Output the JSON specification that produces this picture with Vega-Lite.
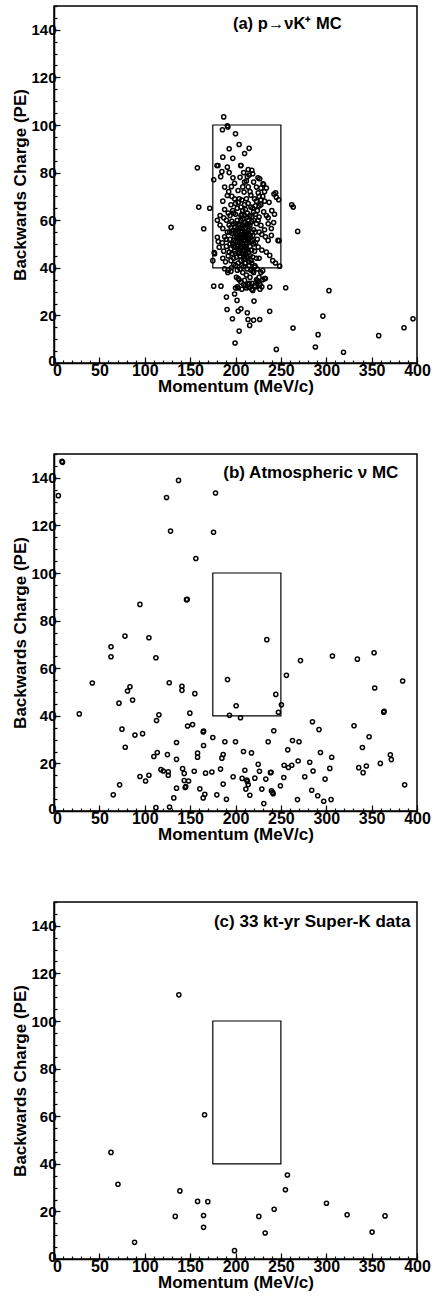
{
  "$schema": "https://vega.github.io/schema/vega-lite/v6.json",
  "padding": {"left": 11, "top": 4, "right": 0, "bottom": 0},
  "background": "white",
  "spacing": 57,
  "config": {
    "view": {"stroke": "black", "strokeWidth": 1.5},
    "font": "Liberation Sans",
    "axis": {
      "grid": false,
      "domainColor": "black",
      "domainWidth": 1.5,
      "tickColor": "black",
      "tickWidth": 1.2,
      "labelColor": "black",
      "labelFont": "Liberation Sans",
      "labelFontWeight": "bold",
      "titleFont": "Liberation Sans",
      "titleFontWeight": "bold",
      "titleColor": "black",
      "titleFontSize": 17
    }
  },
  "datasets": {
    "a": [
      {"p":129,"q":57},{"p":158,"q":82},{"p":159.5,"q":65.5},{"p":165,"q":56.4},{"p":171.6,"q":65},{"p":176,"q":77},{"p":187,"q":103.4},{"p":191,"q":99.7},{"p":191.6,"q":99.2},{"p":185.6,"q":98},{"p":200,"q":96.3},{"p":204,"q":91.8},{"p":215,"q":90.2},{"p":197,"q":86},{"p":206,"q":83},{"p":179.6,"q":83},{"p":214,"q":81.3},{"p":226.7,"q":77.4},{"p":231,"q":75},{"p":244.3,"q":71.5},{"p":247.6,"q":68.6},{"p":262,"q":66.5},{"p":263.6,"q":65.5},{"p":268.5,"q":55.3},{"p":248,"q":51.4},{"p":248.7,"q":40.7},{"p":244,"q":42},{"p":185.5,"q":50.5},{"p":175,"q":43},{"p":177,"q":45.9},{"p":176.5,"q":46.4},
      {"p":176,"q":32.3},{"p":184,"q":32.3},{"p":190,"q":27.7},{"p":190.7,"q":22.5},{"p":199,"q":29},{"p":200,"q":31.5},{"p":202,"q":32},{"p":201.7,"q":26.3},{"p":220.4,"q":26},{"p":237.7,"q":31.9},{"p":255.3,"q":31.6},{"p":203,"q":21.8},{"p":206,"q":22.8},{"p":213,"q":21.1},{"p":237.7,"q":21.7},{"p":196.6,"q":18.6},{"p":213.8,"q":18.3},{"p":220,"q":18},{"p":226.7,"q":18.3},{"p":215.6,"q":15.8},{"p":204,"q":13.4},{"p":263.4,"q":14.7},{"p":199.5,"q":8.4},{"p":245,"q":5.7},{"p":291,"q":11.9},{"p":288,"q":6.7},{"p":296.3,"q":19.7},{"p":303,"q":30.4},{"p":319,"q":4.5},{"p":357.8,"q":11.5},{"p":385.7,"q":14.8},{"p":395.6,"q":18.6},{"p":229,"q":32},{"p":192,"q":39},{"p":195.5,"q":40},
      {"p":203,"q":35.5},{"p":206,"q":34},{"p":209,"q":33},{"p":212,"q":31.5},{"p":215,"q":33.5},{"p":218,"q":31},{"p":221,"q":32.5},{"p":224,"q":34.5},{"p":227,"q":33},{"p":230,"q":35},{"p":228,"q":38},{"p":230,"q":38.8},{"p":233,"q":35.5},
      {"p":193,"q":90},{"p":210,"q":88},{"p":186,"q":86.5},
      {"p":180.7,"q":83},{"p":191,"q":82.3},{"p":205.7,"q":83},{"p":185,"q":80.4},{"p":183.7,"q":78.3},{"p":197.2,"q":77.8},{"p":213,"q":78.3},{"p":224.8,"q":77.8},{"p":193,"q":80},{"p":218,"q":81},
      {"p":210,"q":76},{"p":223,"q":73.9},{"p":230.3,"q":75.3},{"p":214,"q":74},{"p":216,"q":72},{"p":217,"q":70.5},{"p":195.5,"q":74.1},{"p":188,"q":73.9},{"p":192.5,"q":72},{"p":202.8,"q":72.5},{"p":209.4,"q":71.8},{"p":199,"q":75.5},{"p":220,"q":76},
      {"p":191,"q":70.4},{"p":199,"q":69},{"p":203,"q":67.5},{"p":207,"q":68.5},{"p":221,"q":69},{"p":226,"q":70},{"p":232,"q":68},{"p":242.4,"q":71},{"p":245,"q":69.6},{"p":195,"q":66.5},{"p":210,"q":66.5},{"p":212,"q":69},{"p":186,"q":68},{"p":228,"q":66.5},{"p":237,"q":67.5},{"p":214,"q":67},
      {"p":188,"q":64.5},{"p":192,"q":63},{"p":197,"q":64},{"p":217,"q":65.5},{"p":220,"q":63.5},{"p":222,"q":66},{"p":231,"q":63.5},{"p":234,"q":62},{"p":236,"q":61},{"p":194,"q":62},{"p":200,"q":62.5},{"p":206,"q":62},{"p":226,"q":61.3},{"p":202,"q":65},{"p":208,"q":64},{"p":213,"q":63},{"p":183,"q":62},{"p":240,"q":64},{"p":243,"q":62.5},
      {"p":180,"q":60},{"p":183,"q":58},{"p":186,"q":56.5},{"p":190,"q":60},{"p":193,"q":58},{"p":196,"q":59.5},{"p":199,"q":57},{"p":202,"q":60},{"p":204,"q":58},{"p":207,"q":56.5},{"p":210,"q":59},{"p":212,"q":61},{"p":215,"q":57.5},{"p":218,"q":59.5},{"p":220,"q":56},{"p":228,"q":57.8},{"p":232,"q":56},{"p":236,"q":58.5},{"p":239.5,"q":56.5},{"p":200,"q":55.5},{"p":208,"q":60.5},{"p":223,"q":58.5},{"p":225,"q":60},{"p":187,"q":61},{"p":242,"q":59},
      {"p":180,"q":52.8},{"p":181,"q":51},{"p":188,"q":53},{"p":191,"q":55},{"p":194,"q":52},{"p":196,"q":54.5},{"p":198,"q":51.5},{"p":201,"q":53.5},{"p":203,"q":55.5},{"p":205,"q":52},{"p":207,"q":54},{"p":209,"q":51.5},{"p":211,"q":55},{"p":213,"q":52.5},{"p":215,"q":54},{"p":217,"q":51},{"p":219,"q":53.5},{"p":222,"q":55},{"p":224,"q":52},{"p":229,"q":54},{"p":236,"q":51.5},{"p":239.5,"q":53.6},{"p":246.8,"q":51.5},{"p":204,"q":50.8},{"p":210,"q":53},{"p":212,"q":50.5},{"p":226,"q":55},{"p":233,"q":53},
      {"p":182,"q":48.6},{"p":187,"q":47},{"p":190,"q":49},{"p":193,"q":46.5},{"p":195,"q":48},{"p":197,"q":50},{"p":199,"q":47},{"p":202,"q":49},{"p":204,"q":46.5},{"p":206,"q":48.5},{"p":208,"q":50},{"p":210,"q":47},{"p":212,"q":48.5},{"p":214,"q":46.5},{"p":216,"q":49},{"p":218,"q":47.5},{"p":220,"q":50},{"p":225,"q":48.7},{"p":229,"q":47.5},{"p":234,"q":46.6},{"p":200,"q":46},{"p":211,"q":45.8},{"p":207,"q":46},{"p":215,"q":50.5},
      {"p":186,"q":44},{"p":189,"q":42.5},{"p":192,"q":45},{"p":195,"q":43},{"p":198,"q":41.5},{"p":201,"q":44.5},{"p":203,"q":42},{"p":205,"q":45},{"p":207,"q":41},{"p":209,"q":43.5},{"p":211,"q":42},{"p":213,"q":44.5},{"p":215,"q":41},{"p":217,"q":43},{"p":221,"q":40.3},{"p":221.5,"q":40.8},{"p":223,"q":44},{"p":226,"q":44},{"p":237.7,"q":45.2},{"p":241,"q":43},{"p":209,"q":40.5},
      {"p":188,"q":39.6},{"p":191.5,"q":38},{"p":195,"q":38.5},{"p":201,"q":36},{"p":204,"q":35},{"p":210,"q":34.7},{"p":214,"q":33},{"p":218,"q":33.5},{"p":222,"q":32},{"p":225,"q":34},{"p":226,"q":36},{"p":208,"q":38},{"p":212,"q":37},{"p":216,"q":36},{"p":219,"q":38.5},{"p":223,"q":35},{"p":232,"q":35.5},
      {"p":203,"q":31.5},{"p":207,"q":31},{"p":211,"q":32.5},{"p":215,"q":31.8},{"p":219,"q":30.5},{"p":227,"q":31},
      {"p":198,"q":44},{"p":200,"q":48.5},{"p":202,"q":51},{"p":204,"q":53},{"p":206,"q":55},{"p":208,"q":57},{"p":210,"q":49},{"p":212,"q":53.5},{"p":214,"q":55.5},{"p":216,"q":58},{"p":218,"q":61.5},{"p":220,"q":60},{"p":222,"q":62.5},{"p":224,"q":64},{"p":226,"q":66},{"p":228,"q":68.5},{"p":230,"q":70},{"p":232,"q":72},{"p":234,"q":73.5},{"p":206,"q":60},{"p":203,"q":58.5},{"p":201,"q":56},{"p":199,"q":53},{"p":197,"q":55.5},{"p":195,"q":57},{"p":205,"q":47.5},{"p":209,"q":45},{"p":213,"q":47.5},{"p":211,"q":51.5},{"p":207,"q":52.5},{"p":203,"q":49.5},{"p":200,"q":51},{"p":198,"q":49},{"p":196,"q":46},{"p":194,"q":50},{"p":216,"q":45},{"p":219,"q":44.5},{"p":221,"q":47},{"p":222,"q":50.5},{"p":218,"q":55},{"p":214,"q":60},{"p":212,"q":58},{"p":210,"q":62},{"p":206,"q":65.5},{"p":204,"q":69},{"p":200,"q":67},{"p":198,"q":63},{"p":196,"q":70},{"p":208,"q":74},{"p":212,"q":76.5},{"p":215,"q":79},{"p":219,"q":79.5},{"p":205,"q":78},{"p":209,"q":80},{"p":202,"q":39},{"p":205,"q":39.5},{"p":213,"q":39.5},{"p":217,"q":39},{"p":220,"q":38},{"p":224,"q":39.5},
      {"p":205.5,"q":50},{"p":207.5,"q":49},{"p":209.5,"q":47.5},{"p":211.5,"q":48},{"p":206.5,"q":51.5},{"p":208.5,"q":53},{"p":210.5,"q":54},{"p":212.5,"q":55},{"p":214.5,"q":52},{"p":216.5,"q":53},{"p":218.5,"q":51.5},{"p":205,"q":56.5},{"p":209,"q":58},{"p":211,"q":57},{"p":213.5,"q":58.5},{"p":203.5,"q":46},{"p":202.5,"q":53},{"p":200.5,"q":58.5},{"p":207,"q":62.5},{"p":211,"q":64.5},{"p":216,"q":62},{"p":219,"q":65},{"p":223,"q":68},{"p":225,"q":71.5},{"p":228,"q":73.5},{"p":214.5,"q":42.5},{"p":210.5,"q":44},{"p":206,"q":43},{"p":218,"q":42},{"p":197.5,"q":58.5},{"p":193.5,"q":55},{"p":190,"q":52},{"p":200,"q":41}
    ],
    "b": [
      {"p":4.8,"q":132.5},{"p":8.8,"q":146.9},{"p":9.4,"q":146.5},{"p":27.9,"q":40.8},{"p":42.2,"q":53.8},{"p":62.8,"q":69},{"p":62.8,"q":64.8},{"p":65.3,"q":6.8},{"p":71.6,"q":45.3},{"p":72.3,"q":11},{"p":74.9,"q":34.4},{"p":78.2,"q":73.5},{"p":78.5,"q":26.8},{"p":81,"q":50.4},{"p":83.7,"q":52.2},{"p":86.6,"q":46.6},{"p":89.2,"q":31.9},{"p":94.7,"q":86.8},{"p":94.7,"q":14.5},{"p":97.6,"q":32.5},{"p":100.9,"q":12.6},{"p":104.6,"q":72.8},{"p":104.6,"q":15},{"p":110,"q":22.9},{"p":112.3,"q":64.4},{"p":112.3,"q":1.4},{"p":113,"q":38},{"p":113.8,"q":24.6},{"p":115.6,"q":40.4},{"p":117.8,"q":17.4},{"p":120.4,"q":16.8},{"p":124,"q":131.7},{"p":125,"q":23.7},{"p":125.9,"q":16.5},{"p":125.9,"q":15},{"p":127,"q":53.9},{"p":127.3,"q":1.7},{"p":128.4,"q":117.6},{"p":132,"q":5.5},{"p":135,"q":28.8},{"p":135,"q":21.7},{"p":135,"q":9.6},{"p":137.2,"q":138.9},{"p":141,"q":52.4},{"p":141,"q":50.7},{"p":141.7,"q":17.8},{"p":143.5,"q":15.8},{"p":143.5,"q":12.8},{"p":144.6,"q":9.9},{"p":145.2,"q":10.3},{"p":146,"q":88.8},{"p":146.8,"q":88.9},{"p":147.2,"q":35.7},{"p":148.3,"q":12.6},{"p":149.7,"q":41.1},{"p":152.7,"q":36.3},{"p":154.5,"q":16.7},{"p":155.2,"q":49.3},{"p":156.3,"q":106.1},{"p":158.2,"q":24.3},{"p":158.2,"q":22.6},{"p":160.7,"q":9.3},{"p":164.4,"q":5.5},{"p":166.2,"q":7},{"p":164.4,"q":33.2},{"p":164.9,"q":33.6},{"p":164.8,"q":27.5},{"p":167,"q":15.9},{"p":174,"q":16.4},{"p":175,"q":30.9},{"p":175.8,"q":117.1},{"p":178,"q":133.6},{"p":179.4,"q":6.8},{"p":183.5,"q":17.6},{"p":185,"q":22.2},{"p":186.4,"q":23.7},{"p":186.4,"q":11.3},{"p":188.3,"q":29.1},{"p":190,"q":4.9},{"p":191.2,"q":55.2},{"p":193.4,"q":40.2},{"p":197.4,"q":14.4},{"p":200,"q":29.1},{"p":200.7,"q":44.2},{"p":205.5,"q":39.2},{"p":207.3,"q":13.7},{"p":208.8,"q":25},{"p":210.3,"q":17.1},{"p":211.4,"q":9.2},{"p":212.5,"q":13},{"p":213,"q":12.4},{"p":214,"q":11.1},{"p":215.8,"q":6.6},{"p":217.6,"q":24.4},{"p":221.3,"q":13.8},{"p":225,"q":19.6},{"p":226.4,"q":16.7},{"p":229,"q":9.2},{"p":231.2,"q":3.1},{"p":233.4,"q":13.4},{"p":234.5,"q":72},{"p":236,"q":29.1},{"p":238.5,"q":16.1},{"p":239.2,"q":16.3},{"p":239.6,"q":8.5},{"p":241.5,"q":7.3},{"p":240.8,"q":7.8},{"p":242.2,"q":33.7},{"p":244.4,"q":49},{"p":247.3,"q":41.5},{"p":249.5,"q":10.6},{"p":250.6,"q":44.6},{"p":253.2,"q":14.1},{"p":253.6,"q":19.2},{"p":256.1,"q":57},{"p":257.6,"q":25.7},{"p":258.3,"q":18.3},{"p":262.8,"q":29.6},{"p":262,"q":19.2},{"p":268.3,"q":4.8},{"p":269,"q":21},{"p":270,"q":29.1},{"p":271.6,"q":63.2},{"p":276.3,"q":14.4},{"p":281.8,"q":20.5},{"p":284,"q":8.7},{"p":284.8,"q":37.5},{"p":285.5,"q":16.8},{"p":290.6,"q":6.4},{"p":292,"q":34.2},{"p":293.6,"q":24.6},{"p":298.7,"q":13.4},{"p":297.2,"q":4.1},{"p":303.9,"q":17.9},{"p":305.3,"q":4.8},{"p":306,"q":22.6},{"p":306.8,"q":65.1},{"p":330.6,"q":35.8},{"p":334.3,"q":63.8},{"p":335.8,"q":18.2},{"p":339.8,"q":26.7},{"p":340.6,"q":16.1},{"p":344.2,"q":18.9},{"p":347.2,"q":31.2},{"p":352.7,"q":66.5},{"p":353.4,"q":51.7},{"p":359.6,"q":20},{"p":363.3,"q":41.5},{"p":363.8,"q":41.9},{"p":370.6,"q":23.6},{"p":371.7,"q":21.6},{"p":384.2,"q":54.6},{"p":386.4,"q":11}
    ],
    "c": [
      {"p":62.8,"q":44.8},{"p":70.5,"q":31.4},{"p":88.8,"q":7},{"p":133.6,"q":17.9},{"p":137.6,"q":111},{"p":138.7,"q":28.6},{"p":158.2,"q":24.2},{"p":164.8,"q":18.3},{"p":164.8,"q":13.3},{"p":165.9,"q":60.6},{"p":169.5,"q":24.1},{"p":198.9,"q":3.5},{"p":225.7,"q":17.9},{"p":232.7,"q":10.9},{"p":242.6,"q":20.9},{"p":255,"q":29.1},{"p":257.2,"q":35.3},{"p":300.2,"q":23.4},{"p":323,"q":18.6},{"p":350.5,"q":11.3},{"p":364.8,"q":18.1}
    ]
  },
  "vconcat": [
    {
      "width": 363, "height": 357,
      "resolve": {"axis": {"x": "independent", "y": "independent"}},
      "layer": [
        {
          "data": {"name": "a"},
          "mark": {"type": "point", "shape": "circle", "filled": false, "size": 17, "strokeWidth": 1.5, "color": "black", "opacity": 1},
          "encoding": {
            "x": {"field": "p", "type": "quantitative", "scale": {"domain": [0, 400], "nice": false, "zero": false},
              "axis": {"orient": "bottom", "values": [0,50,100,150,200,250,300,350,400], "tickSize": -6, "labelFontSize": 16, "labelPadding": 5, "labelFlush": false, "labelOffset": {"condition": {"test": "datum.value === 0", "value": 3}, "value": 0}, "title": "Momentum (MeV/c)", "titlePadding": 0}},
            "y": {"field": "q", "type": "quantitative", "scale": {"domain": [0, 150], "nice": false, "zero": false},
              "axis": {"orient": "left", "values": [0,20,40,60,80,100,120,140], "tickSize": -6, "labelFontSize": 15, "labelPadding": 4, "labelFlush": false, "labelOffset": {"condition": {"test": "datum.value === 0", "value": -3}, "value": 0}, "title": "Backwards Charge (PE)", "titlePadding": 1}}
          }
        },
        {
          "data": {"values": [{}]},
          "mark": {"type": "rect", "fill": null, "fillOpacity": 0, "stroke": "black", "strokeWidth": 1.2},
          "encoding": {
            "x": {"datum": 175, "type": "quantitative", "axis": {"orient": "bottom", "values": [0,10,20,30,40,50,60,70,80,90,100,110,120,130,140,150,160,170,180,190,200,210,220,230,240,250,260,270,280,290,300,310,320,330,340,350,360,370,380,390,400], "tickSize": -3, "labels": false, "domain": false, "title": null}},
            "x2": {"datum": 250},
            "y": {"datum": 40, "type": "quantitative", "axis": {"orient": "left", "values": [0,5,10,15,20,25,30,35,40,45,50,55,60,65,70,75,80,85,90,95,100,105,110,115,120,125,130,135,140,145,150], "tickSize": -3, "labels": false, "domain": false, "title": null}},
            "y2": {"datum": 100}
          }
        },
        {
          "data": {"values": [{}]},
          "mark": {"type": "text", "fontSize": 16.5, "fontWeight": "bold", "font": "Liberation Sans", "color": "black", "align": "center", "baseline": "middle"},
          "encoding": {
            "x": {"datum": 257, "type": "quantitative", "axis": null},
            "y": {"datum": 142.5, "type": "quantitative", "axis": null},
            "text": {"value": "(a) p→νK⁺ MC"}
          }
        }
      ]
    },
    {
      "width": 363, "height": 357,
      "resolve": {"axis": {"x": "independent", "y": "independent"}},
      "layer": [
        {
          "data": {"name": "b"},
          "mark": {"type": "point", "shape": "circle", "filled": false, "size": 17, "strokeWidth": 1.5, "color": "black", "opacity": 1},
          "encoding": {
            "x": {"field": "p", "type": "quantitative", "scale": {"domain": [0, 400], "nice": false, "zero": false},
              "axis": {"orient": "bottom", "values": [0,50,100,150,200,250,300,350,400], "tickSize": -6, "labelFontSize": 16, "labelPadding": 5, "labelFlush": false, "labelOffset": {"condition": {"test": "datum.value === 0", "value": 3}, "value": 0}, "title": "Momentum (MeV/c)", "titlePadding": 0}},
            "y": {"field": "q", "type": "quantitative", "scale": {"domain": [0, 150], "nice": false, "zero": false},
              "axis": {"orient": "left", "values": [0,20,40,60,80,100,120,140], "tickSize": -6, "labelFontSize": 15, "labelPadding": 4, "labelFlush": false, "labelOffset": {"condition": {"test": "datum.value === 0", "value": -3}, "value": 0}, "title": "Backwards Charge (PE)", "titlePadding": 1}}
          }
        },
        {
          "data": {"values": [{}]},
          "mark": {"type": "rect", "fill": null, "fillOpacity": 0, "stroke": "black", "strokeWidth": 1.2},
          "encoding": {
            "x": {"datum": 175, "type": "quantitative", "axis": {"orient": "bottom", "values": [0,10,20,30,40,50,60,70,80,90,100,110,120,130,140,150,160,170,180,190,200,210,220,230,240,250,260,270,280,290,300,310,320,330,340,350,360,370,380,390,400], "tickSize": -3, "labels": false, "domain": false, "title": null}},
            "x2": {"datum": 250},
            "y": {"datum": 40, "type": "quantitative", "axis": {"orient": "left", "values": [0,5,10,15,20,25,30,35,40,45,50,55,60,65,70,75,80,85,90,95,100,105,110,115,120,125,130,135,140,145,150], "tickSize": -3, "labels": false, "domain": false, "title": null}},
            "y2": {"datum": 100}
          }
        },
        {
          "data": {"values": [{}]},
          "mark": {"type": "text", "fontSize": 17, "fontWeight": "bold", "font": "Liberation Sans", "color": "black", "align": "center", "baseline": "middle"},
          "encoding": {
            "x": {"datum": 283, "type": "quantitative", "axis": null},
            "y": {"datum": 142, "type": "quantitative", "axis": null},
            "text": {"value": "(b) Atmospheric ν MC"}
          }
        }
      ]
    },
    {
      "width": 363, "height": 357,
      "resolve": {"axis": {"x": "independent", "y": "independent"}},
      "layer": [
        {
          "data": {"name": "c"},
          "mark": {"type": "point", "shape": "circle", "filled": false, "size": 17, "strokeWidth": 1.5, "color": "black", "opacity": 1},
          "encoding": {
            "x": {"field": "p", "type": "quantitative", "scale": {"domain": [0, 400], "nice": false, "zero": false},
              "axis": {"orient": "bottom", "values": [0,50,100,150,200,250,300,350,400], "tickSize": -6, "labelFontSize": 16, "labelPadding": 5, "labelFlush": false, "labelOffset": {"condition": {"test": "datum.value === 0", "value": 3}, "value": 0}, "title": "Momentum (MeV/c)", "titlePadding": 0}},
            "y": {"field": "q", "type": "quantitative", "scale": {"domain": [0, 150], "nice": false, "zero": false},
              "axis": {"orient": "left", "values": [0,20,40,60,80,100,120,140], "tickSize": -6, "labelFontSize": 15, "labelPadding": 4, "labelFlush": false, "labelOffset": {"condition": {"test": "datum.value === 0", "value": -3}, "value": 0}, "title": "Backwards Charge (PE)", "titlePadding": 1}}
          }
        },
        {
          "data": {"values": [{}]},
          "mark": {"type": "rect", "fill": null, "fillOpacity": 0, "stroke": "black", "strokeWidth": 1.2},
          "encoding": {
            "x": {"datum": 175, "type": "quantitative", "axis": {"orient": "bottom", "values": [0,10,20,30,40,50,60,70,80,90,100,110,120,130,140,150,160,170,180,190,200,210,220,230,240,250,260,270,280,290,300,310,320,330,340,350,360,370,380,390,400], "tickSize": -3, "labels": false, "domain": false, "title": null}},
            "x2": {"datum": 250},
            "y": {"datum": 40, "type": "quantitative", "axis": {"orient": "left", "values": [0,5,10,15,20,25,30,35,40,45,50,55,60,65,70,75,80,85,90,95,100,105,110,115,120,125,130,135,140,145,150], "tickSize": -3, "labels": false, "domain": false, "title": null}},
            "y2": {"datum": 100}
          }
        },
        {
          "data": {"values": [{}]},
          "mark": {"type": "text", "fontSize": 17, "fontWeight": "bold", "font": "Liberation Sans", "color": "black", "align": "center", "baseline": "middle"},
          "encoding": {
            "x": {"datum": 284.5, "type": "quantitative", "axis": null},
            "y": {"datum": 141.8, "type": "quantitative", "axis": null},
            "text": {"value": "(c) 33 kt-yr Super-K data"}
          }
        }
      ]
    }
  ]
}
